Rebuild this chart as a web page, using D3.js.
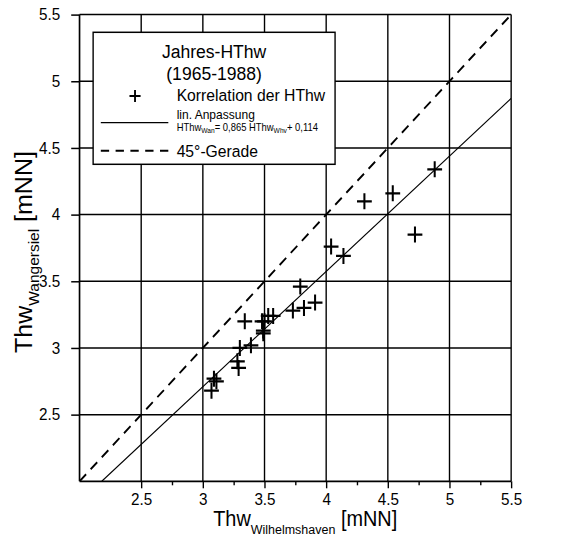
<!DOCTYPE html>
<html>
<head>
<meta charset="utf-8">
<script src="https://cdn.jsdelivr.net/npm/d3@7"></script>
<style>
  html, body { margin: 0; padding: 0; background: #fff; }
  svg { display: block; font-family: "Liberation Sans", Arial, sans-serif; }
</style>
</head>
<body>
<svg id="chart" width="566" height="540" viewBox="0 0 612 540" preserveAspectRatio="none"></svg>
<script>
// Annual high tide water levels (HThw), 1965-1988, in m above NN
const thwWilhelmshaven = [3.07, 3.09, 3.11, 3.28, 3.29, 3.30, 3.39, 3.34, 3.49, 3.49, 3.50, 3.53, 3.57,
                          3.73, 3.82, 3.91, 3.79, 4.04, 4.14, 4.31, 4.54, 4.72, 4.88, 3.48];
const thwWangersiel    = [2.68, 2.77, 2.75, 2.90, 2.85, 3.00, 3.02, 3.20, 3.13, 3.11, 3.20, 3.24, 3.24,
                          3.28, 3.30, 3.34, 3.46, 3.76, 3.69, 4.10, 4.16, 3.85, 4.34, 3.20];

// linear fit HThw_Wan = 0,865 HThw_Whv + 0,114
const fitSlope = 0.865;
const fitIntercept = 0.114;

const axisDomain = [2, 5.5];
const majorTicks = [2.5, 3, 3.5, 4, 4.5, 5, 5.5];
const minorTicks = [2.75, 3.25, 3.75, 4.25, 4.75, 5.25];
const legendTitle = ["Jahres-HThw", "(1965-1988)"];

const svg = d3.select("#chart");
const plotLeft = 86, plotRight = 552.7, plotTop = 14.6, plotBottom = 481.3;

const x = d3.scaleLinear().domain(axisDomain).range([plotLeft, plotRight]);
const y = d3.scaleLinear().domain(axisDomain).range([plotBottom, plotTop]);

svg.append("defs").append("clipPath").attr("id", "plotClip")
  .append("rect").attr("x", plotLeft).attr("y", plotTop)
  .attr("width", plotRight - plotLeft).attr("height", plotBottom - plotTop);

// grid lines
const grid = svg.append("g").attr("stroke", "#000").attr("stroke-width", 1.5);
grid.selectAll("line.v").data(majorTicks).join("line").attr("class", "v")
  .attr("x1", d => x(d)).attr("x2", d => x(d))
  .attr("y1", plotTop).attr("y2", plotBottom);
grid.selectAll("line.h").data(majorTicks).join("line").attr("class", "h")
  .attr("y1", d => y(d)).attr("y2", d => y(d))
  .attr("x1", plotLeft).attr("x2", plotRight);

// axes
const fmt = d => String(d);
const xAxis = svg.append("g").attr("transform", `translate(0,${plotBottom})`)
  .call(d3.axisBottom(x).tickValues(majorTicks).tickSize(7).tickPadding(5).tickFormat(fmt));
const xMinor = svg.append("g").attr("transform", `translate(0,${plotBottom})`)
  .call(d3.axisBottom(x).tickValues(minorTicks).tickSize(4).tickFormat(""));
const yAxis = svg.append("g").attr("transform", `translate(${plotLeft},0)`)
  .call(d3.axisLeft(y).tickValues(majorTicks).tickSize(9).tickPadding(12).tickFormat(fmt));

[xAxis, xMinor, yAxis].forEach(g => {
  g.select(".domain").remove();
  g.selectAll(".tick line").attr("stroke", "#000").attr("stroke-width", 1.5);
  g.selectAll(".tick text").attr("fill", "#000").attr("font-size", 16.5)
    .attr("font-family", "Liberation Sans, Arial, sans-serif");
});

// axis lines
svg.append("line").attr("x1", plotLeft).attr("x2", plotRight).attr("y1", plotBottom).attr("y2", plotBottom)
  .attr("stroke", "#000").attr("stroke-width", 1.8);
svg.append("line").attr("x1", plotLeft).attr("x2", plotLeft).attr("y1", plotTop).attr("y2", plotBottom)
  .attr("stroke", "#000").attr("stroke-width", 1.8);

const plot = svg.append("g").attr("clip-path", "url(#plotClip)");

// 45-degree reference line
plot.append("line")
  .attr("x1", x(axisDomain[0])).attr("y1", y(axisDomain[0]))
  .attr("x2", x(axisDomain[1])).attr("y2", y(axisDomain[1]))
  .attr("stroke", "#000").attr("stroke-width", 2).attr("stroke-dasharray", "10,7");

// regression line
const fitX0 = (axisDomain[0] - fitIntercept) / fitSlope;
plot.append("line")
  .attr("x1", x(fitX0)).attr("y1", y(fitSlope * fitX0 + fitIntercept))
  .attr("x2", x(axisDomain[1])).attr("y2", y(fitSlope * axisDomain[1] + fitIntercept))
  .attr("stroke", "#000").attr("stroke-width", 1.2);

// data markers
const pts = thwWilhelmshaven.map((v, i) => [v, thwWangersiel[i]]);
const arm = 8;
const marks = svg.append("g").attr("stroke", "#000").attr("stroke-width", 2.2).attr("fill", "none");
marks.selectAll("path").data(pts).join("path")
  .attr("d", d => `M${x(d[0]) - arm},${y(d[1])}H${x(d[0]) + arm}M${x(d[0])},${y(d[1]) - arm}V${y(d[1]) + arm}`);

// axis titles
const xt = svg.append("text").attr("x", 330).attr("y", 526)
  .attr("text-anchor", "middle").attr("font-size", 21.5).attr("fill", "#000");
xt.append("tspan").text("Thw");
xt.append("tspan").attr("font-size", 13.5).attr("dy", 8).text("Wilhelmshaven");
xt.append("tspan").attr("dy", -8).text(" [mNN]");

const yt = svg.append("text").attr("transform", `translate(35,252) rotate(-90)`)
  .attr("text-anchor", "middle").attr("font-size", 25).attr("fill", "#000");
yt.append("tspan").text("Thw");
yt.append("tspan").attr("font-size", 15.5).attr("dy", 7).text("Wangersiel");
yt.append("tspan").attr("dy", -7).text(" [mNN]");

// legend
const lg = svg.append("g");
lg.append("rect").attr("x", 100.7).attr("y", 32.3).attr("width", 261.6).attr("height", 132)
  .attr("fill", "#fff").attr("stroke", "#000").attr("stroke-width", 1.5);
lg.selectAll("text.title").data(legendTitle).join("text").attr("class", "title")
  .attr("x", 231.5).attr("y", (d, i) => 58.5 + i * 21.5)
  .attr("text-anchor", "middle").attr("font-size", 19).attr("fill", "#000").text(d => d);
lg.append("path").attr("d", "M140,96H152M146,90V102").attr("stroke", "#000").attr("stroke-width", 2);
lg.append("text").attr("x", 191).attr("y", 101.5).attr("font-size", 17).text("Korrelation der HThw");
lg.append("line").attr("x1", 109).attr("x2", 182).attr("y1", 122.7).attr("y2", 122.7)
  .attr("stroke", "#000").attr("stroke-width", 1.2);
lg.append("text").attr("x", 191).attr("y", 119).attr("font-size", 13).text("lin. Anpassung");
const eq = lg.append("text").attr("x", 191).attr("y", 131).attr("font-size", 10.2).attr("fill", "#000");
eq.append("tspan").text("HThw");
eq.append("tspan").attr("font-size", 7.2).attr("dy", 2.5).text("Wan");
eq.append("tspan").attr("dy", -2.5).text("= " + d3.format(".3f")(fitSlope).replace(".", ",") + " HThw");
eq.append("tspan").attr("font-size", 7.2).attr("dy", 2.5).text("Whv");
eq.append("tspan").attr("dy", -2.5).text("+ " + d3.format(".3f")(fitIntercept).replace(".", ","));
lg.append("line").attr("x1", 109).attr("x2", 182).attr("y1", 150.7).attr("y2", 150.7)
  .attr("stroke", "#000").attr("stroke-width", 2).attr("stroke-dasharray", "9,7");
lg.append("text").attr("x", 191).attr("y", 157).attr("font-size", 17).text("45°-Gerade");
</script>
</body>
</html>
